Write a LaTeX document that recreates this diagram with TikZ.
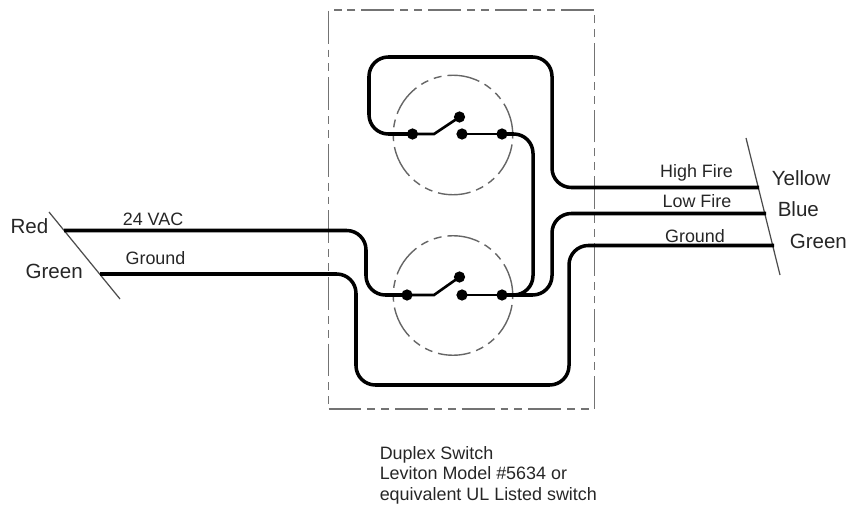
\documentclass[tikz,border=0pt]{standalone}
\usepackage{fontspec}
\setmainfont{Liberation Sans}
\usetikzlibrary{positioning}

\begin{document}
\begin{tikzpicture}
[x=0.02cm, y=-0.02cm, draw=black, line width=2pt,
  mywire/.style={line width=2pt, rounded corners=11pt},
  myarm/.style={line width=1.5pt},
  myslant/.style={line width=0.7pt, draw=black!70},
  myhouse/.style={line width=1pt, draw=black!55, dash pattern=on 18.7pt off 3.4pt on 4.5pt off 3.4pt on 4.5pt off 3.4pt},
  myswitch/.style={circle, minimum size=68pt, inner sep=0pt, line width=0.8pt, draw=black!60, dash pattern=on 18.7pt off 3.4pt on 4.5pt off 3.4pt on 4.5pt off 3.4pt},
  mydot/.style={circle, minimum size=6.4pt, inner sep=0pt, fill=black},
  bigtext/.style={font=\fontsize{11.7}{13}\selectfont, text=black!85, inner sep=0pt},
  smalltext/.style={font=\fontsize{10.2}{11.5}\selectfont, text=black!85, inner sep=0pt}
]
  \useasboundingbox (0,0) rectangle (848,506);

  \node[myhouse, draw, minimum width=151.4pt, minimum height=227.3pt, inner sep=0pt] (house) at (461.5,209.5) {};
  \node[myswitch] (upper) at (453,135) {};
  \node[myswitch] (lower) at (453,295.5) {};

  % left side
  \coordinate (leftA) at (49,212);
  \coordinate (leftB) at (120,299);
  \coordinate (redend) at (64,230.5);
  \coordinate (greenend) at (100,274);
  \draw[myslant] (leftA) -- (leftB);

  % right side
  \coordinate (rightA) at (746,138);
  \coordinate (rightB) at (780,275);
  \coordinate (highend) at (759,187.5);
  \coordinate (lowend) at (766,213.5);
  \coordinate (gndend) at (774,245.5);
  \draw[myslant] (rightA) -- (rightB);

  % upper switch
  \node[mydot] (upA) at (412.5,134) {};
  \node[mydot] (upB) at (462,134) {};
  \node[mydot] (upC) at (502,134) {};
  \node[mydot] (upD) at (459.5,117) {};
  \coordinate (upknee) at (434,134);
  \draw[myarm] (upA.center) -- (upknee) -- (upD.center);
  \draw[myarm] (upB.center) -- (upC.center);

  % lower switch
  \node[mydot] (loA) at (407,295) {};
  \node[mydot] (loB) at (462,295) {};
  \node[mydot] (loC) at (502,295) {};
  \node[mydot] (loD) at (459.5,277) {};
  \coordinate (loknee) at (434,295);
  \draw[myarm] (loA.center) -- (loknee) -- (loD.center);
  \draw[myarm] (loB.center) -- (loC.center);

  % wires
  \draw[mywire] (redend) -- (366,230.5) -- (366,295) -- (loA.center);
  \draw[mywire] (greenend) -- (356,274) -- (356,385) -- (569,385) -- (569,245.5) -- (gndend);
  \draw[mywire] (upA.center) -- (369,134) -- (369,57) -- (552,57) -- (552,187.5) -- (highend);
  \draw[mywire] (upC.center) -- (533,134) -- (533,295) -- (loC.center);
  \draw[mywire] (loC.center) -- (552,295) -- (552,213.5) -- (lowend);

  % labels
  \node[bigtext, anchor=east] (redlabel) at (50,226) {Red};
  \node[bigtext, anchor=east] (greenlabel) at (84.5,271) {Green};
  \node[bigtext, anchor=west] (yellowlabel) at (770,178) {Yellow};
  \node[bigtext, anchor=west] (bluelabel) at (776,209) {Blue};
  \node[bigtext, anchor=west] (greenright) at (788,241) {Green};

  \node[smalltext] (vaclabel) at (153,219) {24 VAC};
  \node[smalltext] (gndleft) at (155.5,258) {Ground};
  \node[smalltext] (highlabel) at (696.5,173) {High Fire};
  \node[smalltext] (lowlabel) at (697,201) {Low Fire};
  \node[smalltext] (gndright) at (695,236) {Ground};

  \node[smalltext, anchor=north west, align=left] (caption) at (378,445) {Duplex Switch\\Leviton Model \#5634 or\\equivalent UL Listed switch};
\end{tikzpicture}
\end{document}
